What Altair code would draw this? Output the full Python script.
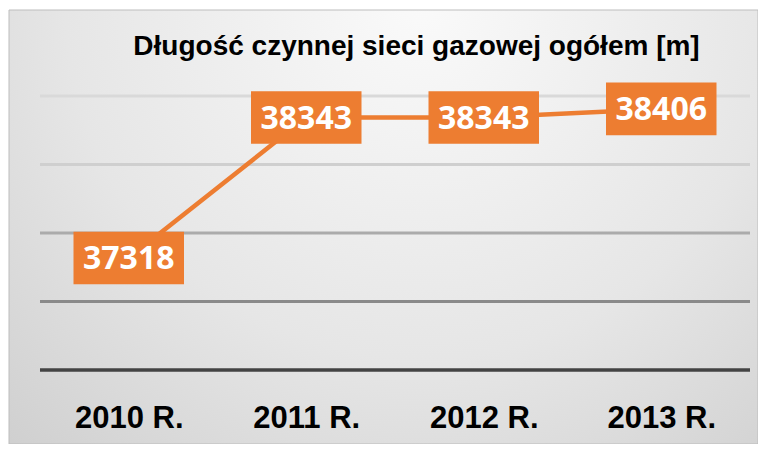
import altair as alt
import pandas as pd

categories = ["2010 R.", "2011 R.", "2012 R.", "2013 R."]
values = [37318, 38343, 38343, 38406]
grid_values = [38500, 38000, 37500, 37000, 36500]
grid_colors = ["#d9d9d9", "#cfcfcf", "#ababab", "#8a8a8a", "#434343"]
grid_widths = [3, 3, 3, 3, 3.5]
title_text = "Długość czynnej sieci gazowej ogółem [m]"
y_domain = [36500, 38500]

ORANGE = "#ED7D31"
W, H = 710, 274

df = pd.DataFrame({"cat": categories, "v": values})
grid_df = pd.DataFrame({"g": grid_values, "c": grid_colors, "w": grid_widths})

y_scale = alt.Scale(domain=y_domain, nice=False, zero=False)

x_enc = alt.X(
    "cat:N",
    sort=categories,
    scale=alt.Scale(type="point", padding=0.5),
    axis=alt.Axis(
        title=None,
        labelFont="Liberation Sans",
        labelFontWeight="bold",
        labelFontSize=31,
        labelColor="#000000",
        labelAngle=0,
        ticks=False,
        tickSize=0,
        domain=False,
        grid=False,
        labelPadding=57,
        labelBaseline="alphabetic",
        zindex=2,
    ),
)

gradient = alt.RadialGradient(
    gradient="radial",
    stops=[
        alt.GradientStop(offset=0, color="#fafafa"),
        alt.GradientStop(offset=0.5, color="#e6e6e6"),
        alt.GradientStop(offset=1, color="#c6c6c6"),
    ],
    x1=0.55, y1=0.2, r1=0,
    x2=0.55, y2=0.2, r2=0.95,
)

background = alt.Chart(alt.Data(values=[{"k": 1}])).mark_rect(
    fill=gradient, stroke="#bdbdbd", strokeWidth=1
).encode(
    x=alt.value(-31), x2=alt.value(718), y=alt.value(-86), y2=alt.value(74 + H)
)

grid = alt.Chart(grid_df).mark_rule().encode(
    y=alt.Y("g:Q", scale=y_scale, axis=None),
    color=alt.Color("c:N", scale=None),
    strokeWidth=alt.StrokeWidth("w:Q", scale=None),
)

line = alt.Chart(df).mark_line(color=ORANGE, strokeWidth=4.5).encode(
    x=x_enc,
    y=alt.Y("v:Q", scale=y_scale, axis=None),
)

boxes = alt.Chart(df).mark_point(
    shape="M-1,-0.476L1,-0.476L1,0.476L-1,0.476Z",
    filled=True, opacity=1, color=ORANGE, strokeWidth=0, size=12210,
).encode(
    x=x_enc,
    y=alt.Y("v:Q", scale=y_scale, axis=None),
)

labels = alt.Chart(df).mark_text(
    font="Open Sans", fontWeight="bold", fontSize=32, color="white",
    baseline="middle", align="center", dy=1,
).encode(
    x=x_enc,
    y=alt.Y("v:Q", scale=y_scale, axis=None),
    text=alt.Text("v:Q", format="d"),
)

title = alt.Chart(alt.Data(values=[{"k": 1}])).mark_text(
    font="Liberation Sans", fontWeight="bold", fontSize=28, color="#000000",
    align="center", baseline="alphabetic",
).encode(
    x=alt.value(376.5), y=alt.value(-41), text=alt.value(title_text)
)

chart = alt.layer(background, grid, line, boxes, labels, title).properties(
    width=W,
    height=H,
    autosize=alt.AutoSizeParams(type="none"),
    padding={"left": 32, "top": 88, "right": 8, "bottom": 74},
    background="#ffffff",
).configure_view(stroke=None)

chart.save("out.html", embed_options={"renderer": "svg", "actions": False})
